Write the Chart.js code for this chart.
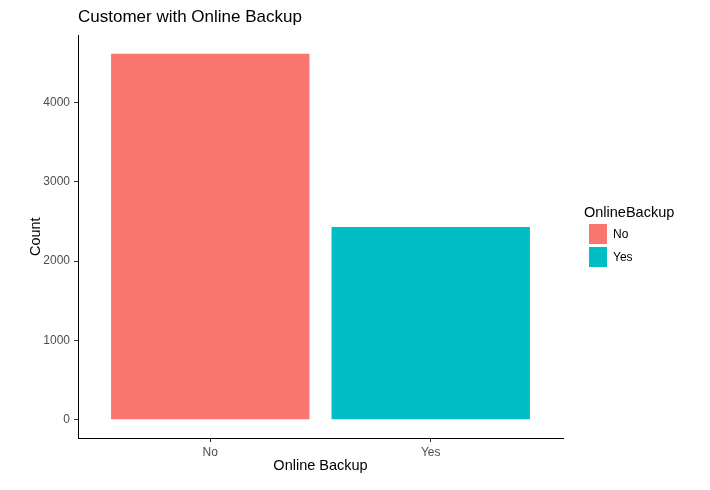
<!DOCTYPE html>
<html>
<head>
<meta charset="utf-8">
<script src="https://cdn.jsdelivr.net/npm/chart.js@4"></script>
<style>
  html, body { margin: 0; padding: 0; background: #fff; }
  #wrap { position: relative; width: 710px; height: 490px; font-family: "Liberation Sans", Arial, sans-serif; }
  #legend { position: absolute; left: 584px; top: 203px; }
  #legend .lt { font-size: 14.5px; color: #000; height: 19px; line-height: 19px; }
  #legend .item { position: relative; height: 23px; }
  #legend .sw { position: absolute; left: 5px; top: 2px; width: 18px; height: 20px; }
  #legend .lb { position: absolute; left: 29px; top: 4px; font-size: 12px; line-height: 16px; color: #000; }
</style>
</head>
<body>
<div id="wrap">
  <canvas id="c" width="710" height="490"></canvas>
  <div id="legend"></div>
</div>
<script>
const categories = ["No", "Yes"];
const counts = [4614, 2429];
const barColors = ["#F8766D", "#00BFC4"];
const yTickValues = [0, 1000, 2000, 3000, 4000];
const chartTitle = "Customer with Online Backup";
const xTitle = "Online Backup";
const yTitle = "Count";
const legendTitle = "OnlineBackup";

const maxVal = Math.max(...counts);
const yPad = maxVal * 0.05;

new Chart(document.getElementById('c'), {
  type: 'bar',
  data: {
    datasets: [{
      data: categories.map((c, i) => ({ x: i + 1, y: counts[i] })),
      backgroundColor: barColors,
      borderWidth: 0,
      barPercentage: 0.9,
      categoryPercentage: 1.0
    }]
  },
  options: {
    responsive: false,
    animation: false,
    layout: { padding: { left: 0, right: 147, top: 0, bottom: 0 } },
    plugins: {
      legend: { display: false },
      tooltip: { enabled: false },
      title: {
        display: true,
        text: chartTitle,
        align: 'start',
        fullSize: false,
        color: '#000',
        font: { family: '"Liberation Sans", Arial, sans-serif', size: 17, weight: 'normal' },
        padding: { top: 7, bottom: 8 }
      }
    },
    scales: {
      x: {
        type: 'linear',
        min: 0.4,
        max: 2.6,
        offset: false,
        afterBuildTicks: s => { s.ticks = categories.map((c, i) => ({ value: i + 1 })); },
        afterFit: s => { s.height = 52; },
        ticks: {
          callback: v => categories[v - 1],
          color: '#4d4d4d',
          font: { family: '"Liberation Sans", Arial, sans-serif', size: 12 },
          padding: 3,
          maxRotation: 0
        },
        grid: { display: true, drawOnChartArea: false, drawTicks: true, tickLength: 4, color: '#333', offset: false },
        border: { display: true, color: '#000', width: 1 },
        title: {
          display: true, text: xTitle, color: '#000',
          font: { family: '"Liberation Sans", Arial, sans-serif', size: 14.5 },
          padding: { top: 0, bottom: 15 }
        }
      },
      y: {
        type: 'linear',
        min: -yPad,
        max: maxVal + yPad,
        afterBuildTicks: s => { s.ticks = yTickValues.map(v => ({ value: v })); },
        afterFit: s => { s.width = 78; },
        ticks: {
          callback: v => String(v),
          color: '#4d4d4d',
          font: { family: '"Liberation Sans", Arial, sans-serif', size: 12 },
          padding: 4
        },
        grid: { display: true, drawOnChartArea: false, drawTicks: true, tickLength: 4, color: '#333' },
        border: { display: true, color: '#000', width: 1 },
        title: {
          display: true, text: yTitle, color: '#000',
          font: { family: '"Liberation Sans", Arial, sans-serif', size: 14.5 },
          padding: { top: 27, bottom: 0 }
        }
      }
    }
  }
});

const lg = document.getElementById('legend');
const t = document.createElement('div');
t.className = 'lt';
t.textContent = legendTitle;
lg.appendChild(t);
categories.forEach((c, i) => {
  const it = document.createElement('div');
  it.className = 'item';
  const sw = document.createElement('div');
  sw.className = 'sw';
  sw.style.background = barColors[i];
  const lb = document.createElement('div');
  lb.className = 'lb';
  lb.textContent = c;
  it.appendChild(sw);
  it.appendChild(lb);
  lg.appendChild(it);
});
</script>
</body>
</html>
